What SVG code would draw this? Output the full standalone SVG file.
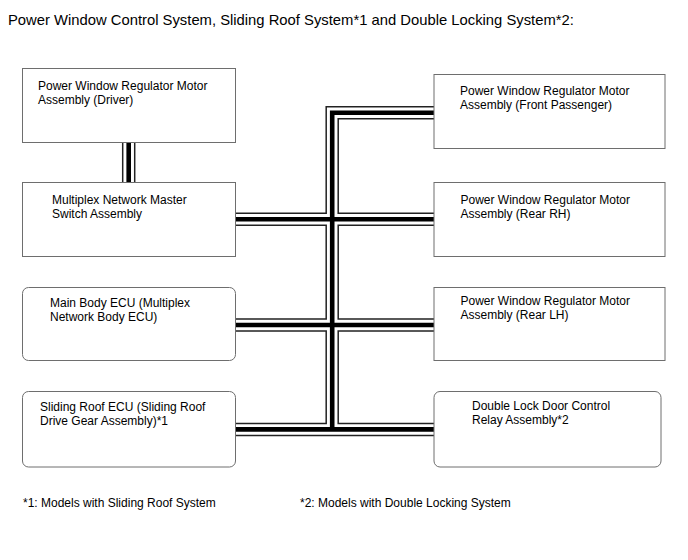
<svg xmlns="http://www.w3.org/2000/svg" width="688" height="560" viewBox="0 0 688 560">
<style>
text{font-family:"Liberation Sans",Arial,sans-serif;font-size:12px;fill:#000}
.title{font-size:14.8px}
.box{fill:#fff;stroke:#6e6e6e;stroke-width:1}
.c1{fill:none;stroke:#222;stroke-width:13.5;stroke-linejoin:miter;stroke-linecap:butt}
.c2{fill:none;stroke:#fff;stroke-width:10.5;stroke-linejoin:miter;stroke-linecap:butt}
.c3{fill:none;stroke:#000;stroke-width:4.6;stroke-linejoin:miter;stroke-linecap:butt}
</style>
<defs>
<path id="cab" d="M128.7 143 V182 M236 219.3 H434 M236 325 H434 M236 429.4 H434 M434 112.8 H332.2 V429.4"/>
</defs>
<rect width="688" height="560" fill="#fff"/>
<text class="title" x="8" y="25">Power Window Control System, Sliding Roof System*1 and Double Locking System*2:</text>

<g id="connectors">
<use href="#cab" class="c1"/>
<use href="#cab" class="c2"/>
<use href="#cab" class="c3"/>
</g>

<g id="pw-driver">
<rect class="box" x="22.5" y="68.5" width="213" height="74"/>
<text x="38" y="89.5">Power Window Regulator Motor</text>
<text x="38" y="103.5">Assembly (Driver)</text>
</g>
<g id="master-switch">
<rect class="box" x="22.5" y="182.5" width="213" height="74"/>
<text x="52" y="203.5">Multiplex Network Master</text>
<text x="52" y="217.5">Switch Assembly</text>
</g>
<g id="main-body-ecu">
<rect class="box" x="22.5" y="287.5" width="213" height="73" rx="6"/>
<text x="50" y="306.5">Main Body ECU (Multiplex</text>
<text x="50" y="320.5">Network Body ECU)</text>
</g>
<g id="sliding-roof-ecu">
<rect class="box" x="22.5" y="391.5" width="213" height="75.5" rx="6"/>
<text x="40" y="410.5">Sliding Roof ECU (Sliding Roof</text>
<text x="40" y="424.5">Drive Gear Assembly)*1</text>
</g>
<g id="pw-front-passenger">
<rect class="box" x="434" y="74.5" width="231" height="74"/>
<text x="460" y="95">Power Window Regulator Motor</text>
<text x="460" y="109">Assembly (Front Passenger)</text>
</g>
<g id="pw-rear-rh">
<rect class="box" x="434" y="182.5" width="231" height="74"/>
<text x="460.5" y="203.5">Power Window Regulator Motor</text>
<text x="460.5" y="217.5">Assembly (Rear RH)</text>
</g>
<g id="pw-rear-lh">
<rect class="box" x="434" y="287.5" width="231" height="73"/>
<text x="460.5" y="305">Power Window Regulator Motor</text>
<text x="460.5" y="319">Assembly (Rear LH)</text>
</g>
<g id="double-lock-relay">
<rect class="box" x="434" y="391.5" width="227" height="75.5" rx="6"/>
<text x="472" y="409.5">Double Lock Door Control</text>
<text x="472" y="423.5">Relay Assembly*2</text>
</g>

<text x="23" y="506.5">*1: Models with Sliding Roof System</text>
<text x="300" y="506.5">*2: Models with Double Locking System</text>
</svg>
